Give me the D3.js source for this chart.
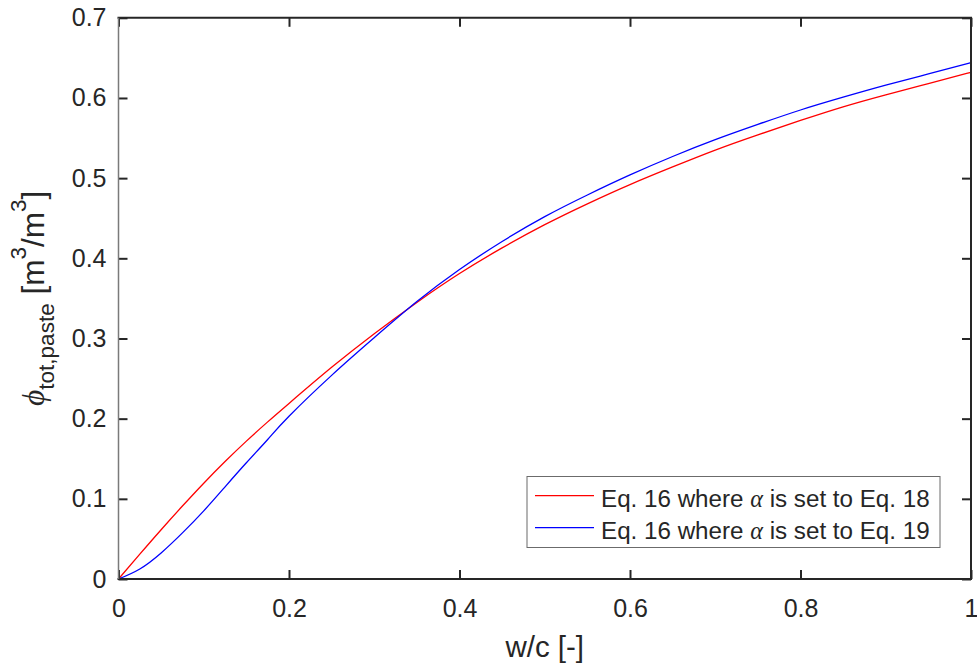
<!DOCTYPE html>
<html>
<head>
<meta charset="utf-8">
<script src="https://cdn.jsdelivr.net/npm/d3@7"></script>
<style>
  html, body { margin: 0; padding: 0; background: #fff; }
  svg { display: block; }
  text { font-family: "Liberation Sans", Arial, Helvetica, sans-serif; fill: #262626; }
</style>
</head>
<body>
<svg id="chart" width="977" height="666"></svg>
<script>
// ---- data ----
const wc = [0, 0.025, 0.05, 0.075, 0.1, 0.125, 0.15, 0.175, 0.2, 0.25, 0.3, 0.35, 0.4, 0.45, 0.5, 0.55, 0.6, 0.65, 0.7, 0.75, 0.8, 0.85, 0.9, 0.95, 1.0];
const phiEq18 = [0, 0.031, 0.0615, 0.091, 0.1195, 0.1465, 0.172, 0.196, 0.219, 0.264, 0.306, 0.345, 0.381, 0.413, 0.442, 0.468, 0.492, 0.514, 0.535, 0.554, 0.572, 0.589, 0.604, 0.618, 0.632];
const phiEq19 = [0, 0.0125, 0.0325, 0.0575, 0.085, 0.115, 0.145, 0.174, 0.203, 0.254, 0.301, 0.346, 0.386, 0.421, 0.452, 0.479, 0.504, 0.527, 0.548, 0.567, 0.585, 0.601, 0.616, 0.630, 0.644];
const xTicks = [0, 0.2, 0.4, 0.6, 0.8, 1];
const yTicks = [0, 0.1, 0.2, 0.3, 0.4, 0.5, 0.6, 0.7];
const seriesNames = ["Eq. 16 where ", "α", " is set to Eq. 18", " is set to Eq. 19"];
const seriesColors = ["#ff0000", "#0000ff"];

const svg = d3.select("#chart");
const L = 118.5, R = 971, T = 17.8, B = 579;
const x = d3.scaleLinear().domain([0, 1]).range([L, R]);
const y = d3.scaleLinear().domain([0, 0.7]).range([B, T]);
const tickLen = 9;
const axisColor = "#262626";
const tickFont = "25px";

// lines
const line = d3.line().x(d => x(d[0])).y(d => y(d[1])).curve(d3.curveNatural);
const series = [phiEq18, phiEq19];
series.forEach((vals, i) => {
  svg.append("path")
    .datum(wc.map((w, j) => [w, vals[j]]))
    .attr("d", line)
    .attr("fill", "none")
    .attr("stroke", seriesColors[i])
    .attr("stroke-width", 1.3);
});

// axes (bottom/left with labels, top/right mirrored ticks)
const gB = svg.append("g").attr("transform", `translate(0,${B})`)
  .call(d3.axisBottom(x).tickValues(xTicks).tickSizeInner(-tickLen).tickSizeOuter(0).tickPadding(20).tickFormat(d3.format("")));
const gT = svg.append("g").attr("transform", `translate(0,${T})`)
  .call(d3.axisTop(x).tickValues(xTicks).tickSizeInner(-tickLen).tickSizeOuter(0).tickFormat(""));
const gL = svg.append("g").attr("transform", `translate(${L},0)`)
  .call(d3.axisLeft(y).tickValues(yTicks).tickSizeInner(-tickLen).tickSizeOuter(0).tickPadding(12).tickFormat(d3.format("")));
const gR = svg.append("g").attr("transform", `translate(${R},0)`)
  .call(d3.axisRight(y).tickValues(yTicks).tickSizeInner(-tickLen).tickSizeOuter(0).tickFormat(""));

[gB, gT, gL, gR].forEach(g => {
  g.select(".domain").remove();
  g.selectAll(".tick line").attr("stroke", axisColor).attr("stroke-width", 2);
  g.selectAll(".tick text")
    .attr("fill", axisColor)
    .style("font-size", tickFont)
    .style("font-family", '"Liberation Sans", Arial, sans-serif');
});
gB.selectAll(".tick text").attr("dy", "0.71em");

// box
svg.append("line").attr("x1", L - 1).attr("x2", R + 1).attr("y1", T).attr("y2", T).attr("stroke", axisColor).attr("stroke-width", 2);
svg.append("line").attr("x1", L - 1).attr("x2", R + 1).attr("y1", B).attr("y2", B).attr("stroke", axisColor).attr("stroke-width", 2);
svg.append("line").attr("x1", R).attr("x2", R).attr("y1", T).attr("y2", B).attr("stroke", axisColor).attr("stroke-width", 2);
svg.append("line").attr("x1", L).attr("x2", L).attr("y1", T).attr("y2", B).attr("stroke", "#7a7a7a").attr("stroke-width", 1.5);

// x label
svg.append("text")
  .attr("x", (L + R) / 2).attr("y", 656.5)
  .attr("text-anchor", "middle")
  .style("font-size", "29.5px")
  .text("w/c [-]");

// y label
const yl = svg.append("text")
  .attr("transform", `translate(44,${(T + B) / 2}) rotate(-90)`)
  .attr("text-anchor", "middle")
  .style("font-size", "31.5px");
yl.append("tspan").style("font-family", '"Liberation Serif", "DejaVu Serif", serif').style("font-style", "italic").text("ϕ");
yl.append("tspan").attr("dy", 10).style("font-size", "22.5px").text("tot,paste");
yl.append("tspan").attr("dy", -10).text(" [m");
yl.append("tspan").attr("dy", -18).style("font-size", "22.5px").text("3");
yl.append("tspan").attr("dy", 18).text("/m");
yl.append("tspan").attr("dy", -18).style("font-size", "22.5px").text("3");
yl.append("tspan").attr("dy", 18).text("]");

// legend
const lg = svg.append("g");
lg.append("rect").attr("x", 527).attr("y", 476.5).attr("width", 413).attr("height", 71)
  .attr("fill", "#fff").attr("stroke", "#6b6b6b").attr("stroke-width", 1);
const ends = [seriesNames[2], seriesNames[3]];
[495.7, 527.7].forEach((ly, i) => {
  lg.append("line").attr("x1", 535).attr("x2", 594).attr("y1", ly).attr("y2", ly)
    .attr("stroke", seriesColors[i]).attr("stroke-width", 1.3);
  const t = lg.append("text").attr("x", 601).attr("y", ly + 11).style("font-size", "24.2px").attr("fill", "#000");
  t.append("tspan").text(seriesNames[0]);
  t.append("tspan").style("font-family", '"Liberation Serif", "DejaVu Serif", serif').style("font-style", "italic").text(seriesNames[1]);
  t.append("tspan").text(ends[i]);
});
</script>
</body>
</html>
